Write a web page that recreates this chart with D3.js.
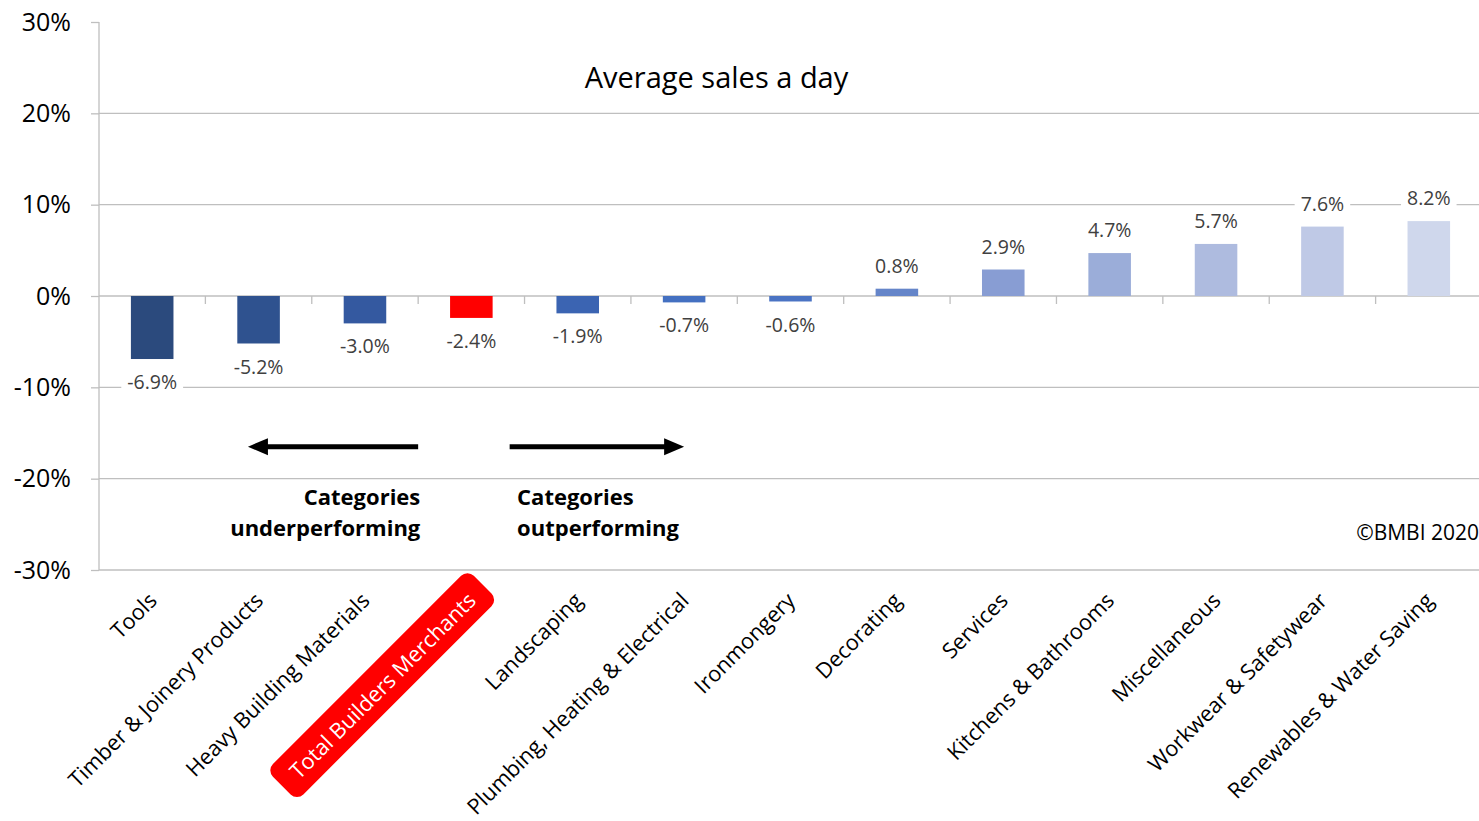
<!DOCTYPE html>
<html>
<head>
<meta charset="utf-8">
<style>
  body { margin: 0; background: #fff; }
  svg { display: block; font-family: "Open Sans", sans-serif; }
</style>
</head>
<body>
<svg width="1479" height="821"></svg>
<script src="https://d3js.org/d3.v7.min.js"></script>
<script>

// chart data
var categories = ["Tools", "Timber & Joinery Products", "Heavy Building Materials",
  "Total Builders Merchants", "Landscaping", "Plumbing, Heating & Electrical",
  "Ironmongery", "Decorating", "Services", "Kitchens & Bathrooms",
  "Miscellaneous", "Workwear & Safetywear", "Renewables & Water Saving"];
var values = [-6.9, -5.2, -3.0, -2.4, -1.9, -0.7, -0.6, 0.8, 2.9, 4.7, 5.7, 7.6, 8.2];
var barColors = ["#2b4a7d", "#2f528f", "#3459a0", "#ff0000", "#3b64b2", "#4470c1",
  "#4a73c3", "#6585c9", "#889dd3", "#9badd9", "#aebbdf", "#bfc9e6", "#cfd7ec"];
var yTicks = [30, 20, 10, 0, -10, -20, -30];
var highlight = "Total Builders Merchants";

var svg = d3.select("svg"),
    margin = {top: 22, right: -3, bottom: 251, left: 99},
    width = +svg.attr("width") - margin.left - margin.right,
    height = +svg.attr("height") - margin.top - margin.bottom,
    g = svg.append("g")
      .attr("transform", "translate(" + margin.left + "," + margin.top + ")");

var x = d3.scaleBand()
    .domain(categories)
    .range([0, width])
    .paddingInner(0.6)
    .paddingOuter(0.3);

var y = d3.scaleLinear()
    .domain([-30, 30])
    .range([height, 0]);

var step = x.step();
var gridColor = "#bfbfbf";

// gridlines (no line at the top value)
g.append("g")
  .selectAll("line")
  .data(yTicks.filter(function(d) { return d < 30; }))
  .enter().append("line")
    .attr("x1", 0)
    .attr("x2", width)
    .attr("y1", function(d) { return y(d); })
    .attr("y2", function(d) { return y(d); })
    .attr("stroke", gridColor)
    .attr("stroke-width", 1.3);

// category ticks hanging off the zero line
g.append("g")
  .selectAll("line")
  .data(d3.range(1, categories.length))
  .enter().append("line")
    .attr("x1", function(i) { return i * step; })
    .attr("x2", function(i) { return i * step; })
    .attr("y1", y(0))
    .attr("y2", y(0) + 8)
    .attr("stroke", gridColor)
    .attr("stroke-width", 1.3);

// y axis
var yAxis = g.append("g")
    .call(d3.axisLeft(y)
      .tickValues(yTicks)
      .tickSize(8)
      .tickPadding(20)
      .tickFormat(function(d) { return d + "%"; }));
yAxis.selectAll("path, line").attr("stroke", gridColor).attr("stroke-width", 1.3);
yAxis.select(".domain").attr("d", "M0," + y(30) + "V" + y(-30));
yAxis.selectAll("text")
    .attr("fill", "#000")
    .style("font-family", "'Open Sans', sans-serif")
    .style("font-size", "25px");

// bars
g.append("g")
  .selectAll("rect")
  .data(values)
  .enter().append("rect")
    .attr("x", function(d, i) { return x(categories[i]); })
    .attr("width", x.bandwidth())
    .attr("y", function(d) { return y(Math.max(0, d)); })
    .attr("height", function(d) { return Math.abs(y(d) - y(0)); })
    .attr("fill", function(d, i) { return barColors[i]; });

// data labels with a white box behind them
var lab = g.append("g")
  .selectAll("g")
  .data(values)
  .enter().append("g")
    .attr("transform", function(d, i) {
      var cx = x(categories[i]) + x.bandwidth() / 2;
      var cy = d < 0 ? y(d) + 23 : y(d) - 23;
      return "translate(" + cx + "," + cy + ")";
    });
lab.append("text")
    .attr("text-anchor", "middle")
    .attr("dy", "0.36em")
    .attr("fill", "#404040")
    .style("font-size", "19.5px")
    .text(function(d) { return d.toFixed(1) + "%"; });
lab.each(function() {
  var gg = d3.select(this), bb = gg.select("text").node().getBBox();
  gg.insert("rect", "text")
    .attr("x", bb.x - 6).attr("y", bb.y)
    .attr("width", bb.width + 12).attr("height", bb.height)
    .attr("fill", "#fff");
});

// category labels, rotated
var cat = g.append("g")
  .selectAll("g")
  .data(categories)
  .enter().append("g")
    .attr("transform", function(d) {
      return "translate(" + (x(d) + x.bandwidth() / 2 + 6) + "," + (height + 32) + ") rotate(-45)";
    });
cat.append("text")
    .attr("text-anchor", "end")
    .attr("fill", function(d) { return d === highlight ? "#fff" : "#000"; })
    .style("font-size", "21.7px")
    .text(function(d) { return d; });
cat.filter(function(d) { return d === highlight; }).each(function() {
  var gg = d3.select(this), bb = gg.select("text").node().getBBox();
  gg.insert("rect", "text")
    .attr("x", bb.x - 16).attr("y", bb.y - 7)
    .attr("width", bb.width + 32).attr("height", bb.height + 14)
    .attr("rx", 9)
    .attr("fill", "#ff0000");
});

// title
g.append("text")
    .attr("x", width / 2 - 74)
    .attr("y", y(22.8))
    .attr("text-anchor", "middle")
    .attr("fill", "#000")
    .style("font-size", "29px")
    .text("Average sales a day");

// arrows + notes (positions in band steps)
var arrows = [{from: 3.0, to: 1.4}, {from: 3.86, to: 5.5}];
var arrowY = y(-16.5);
var ag = g.append("g");
arrows.forEach(function(a) {
  var x1 = a.from * step, x2 = a.to * step, dir = x2 > x1 ? 1 : -1;
  ag.append("line")
    .attr("x1", x1).attr("x2", x2 - dir * 16)
    .attr("y1", arrowY).attr("y2", arrowY)
    .attr("stroke", "#000").attr("stroke-width", 5);
  ag.append("path")
    .attr("d", "M" + x2 + "," + arrowY + "L" + (x2 - dir * 20) + "," + (arrowY - 8.5) +
               "L" + (x2 - dir * 20) + "," + (arrowY + 8.5) + "Z")
    .attr("fill", "#000");
});

var notes = [
  {pos: 3.02, anchor: "end", lines: ["Categories", "underperforming"]},
  {pos: 3.93, anchor: "start", lines: ["Categories", "outperforming"]}
];
notes.forEach(function(n) {
  var t = g.append("text")
    .attr("text-anchor", n.anchor)
    .attr("fill", "#000")
    .style("font-size", "22px")
    .style("font-weight", "bold");
  n.lines.forEach(function(l, i) {
    t.append("tspan")
      .attr("x", n.pos * step)
      .attr("y", y(-22.9) + i * 31)
      .text(l);
  });
});

// copyright
svg.append("text")
    .attr("x", 1479)
    .attr("y", 540)
    .attr("text-anchor", "end")
    .attr("fill", "#000")
    .style("font-size", "21px")
    .text("\u00a9BMBI 2020");

</script>
</body>
</html>
